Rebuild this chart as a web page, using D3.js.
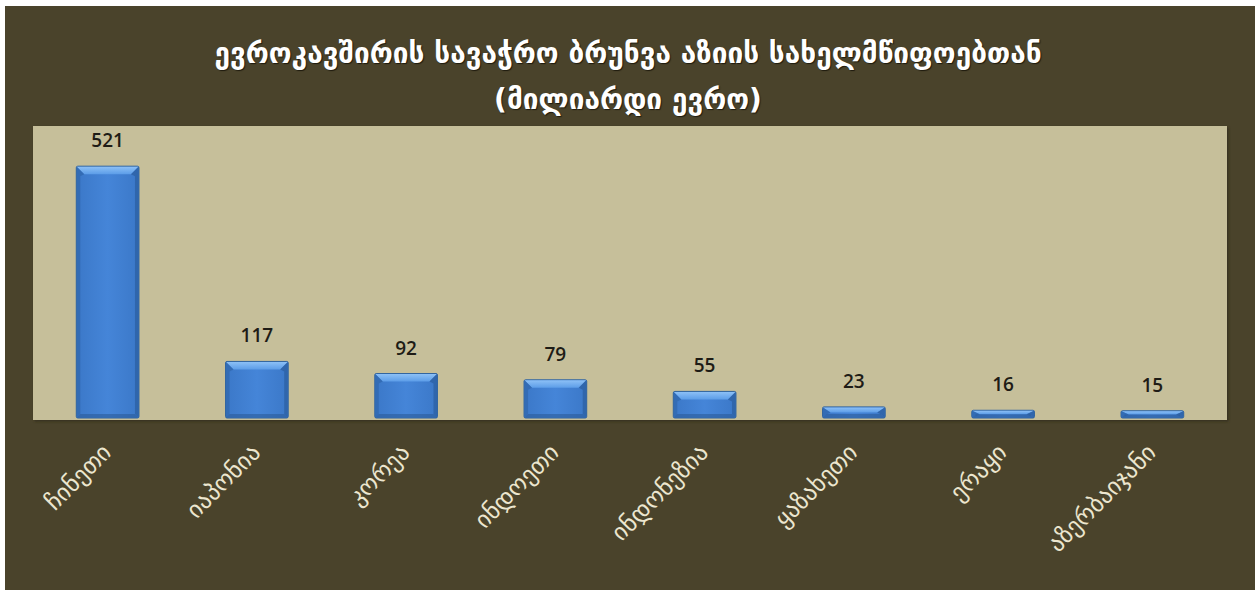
<!DOCTYPE html>
<html>
<head>
<meta charset="utf-8">
<script src="https://cdn.jsdelivr.net/npm/d3@7"></script>
<style>
  html, body { margin: 0; padding: 0; background: #ffffff; }
  svg { display: block; }
</style>
</head>
<body>
<svg id="chart" width="1255" height="590"></svg>
<script>
// EU trade turnover with Asian countries, billion euro
const countries = ["ჩინეთი", "იაპონია", "კორეა", "ინდოეთი", "ინდონეზია", "ყაზახეთი", "ერაყი", "აზერბაიჯანი"];
const turnover = [521, 117, 92, 79, 55, 23, 16, 15];
const titleLines = ["ევროკავშირის სავაჭრო ბრუნვა აზიის სახელმწიფოებთან", "(მილიარდი ევრო)"];

const W = 1255, H = 590;
const svg = d3.select("#chart");
const defs = svg.append("defs");

// outer frame
svg.append("rect").attr("x", 5).attr("y", 6).attr("width", W - 5).attr("height", H - 6).attr("fill", "#4a432b");

// plot panel
const panel = { x0: 33, x1: 1227, y0: 126, y1: 420 };
defs.append("filter").attr("id", "panelShadow")
  .append("feDropShadow").attr("dx", 1.5).attr("dy", 1.5).attr("stdDeviation", 1)
  .attr("flood-color", "#2e2a1a").attr("flood-opacity", 0.8);
svg.append("rect")
  .attr("x", panel.x0).attr("y", panel.y0)
  .attr("width", panel.x1 - panel.x0).attr("height", panel.y1 - panel.y0)
  .attr("fill", "#c6bf9a").attr("filter", "url(#panelShadow)");

const x = d3.scaleBand().domain(countries).range([panel.x0, panel.x1]).paddingInner(0.58).paddingOuter(0.29);
const y = d3.scaleLinear().domain([0, 600]).range([418, 128]);

// bar gradients
const face = defs.append("linearGradient").attr("id", "barFace").attr("x1", 0).attr("x2", 1).attr("y1", 0).attr("y2", 0);
face.append("stop").attr("offset", 0).attr("stop-color", "#3b78c8");
face.append("stop").attr("offset", 0.5).attr("stop-color", "#4585d8");
face.append("stop").attr("offset", 1).attr("stop-color", "#3b78c8");
const topFace = defs.append("linearGradient").attr("id", "barTop").attr("x1", 0).attr("x2", 0).attr("y1", 0).attr("y2", 1);
topFace.append("stop").attr("offset", 0).attr("stop-color", "#8cc0f6");
topFace.append("stop").attr("offset", 1).attr("stop-color", "#5c9de8");

const data = countries.map((c, i) => ({ c, v: turnover[i] }));
const bw = x.bandwidth();
const h = d => y(0) - y(d.v);

const bars = svg.append("g").selectAll("g").data(data).join("g")
  .attr("transform", d => `translate(${x(d.c)},${y(d.v)})`);

bars.append("rect")
  .attr("width", bw).attr("height", h)
  .attr("rx", 1.5)
  .attr("fill", "url(#barFace)").attr("stroke", "#30649f").attr("stroke-width", 1);

// bevel facets
const tb = d => Math.min(8, h(d) / 2);
const sb = d => Math.min(4, h(d) / 2);
bars.append("path")
  .attr("d", d => { const t = tb(d), s = sb(d); return `M0.5,0.5H${bw - 0.5}L${bw - s - 4},${t}H${s + 4}Z`; })
  .attr("fill", "url(#barTop)");
bars.append("path")
  .attr("d", d => { const t = tb(d), s = sb(d), hh = h(d); return `M0.5,0.5L${s + 4},${t}L${s},${t + 2}V${hh - s}L0.5,${hh - 0.5}Z`; })
  .attr("fill", "#2f66ad").attr("opacity", 0.7);
bars.append("path")
  .attr("d", d => { const t = tb(d), s = sb(d), hh = h(d); return `M${bw - 0.5},0.5L${bw - s - 4},${t}L${bw - s},${t + 2}V${hh - s}L${bw - 0.5},${hh - 0.5}Z`; })
  .attr("fill", "#2b5e9f").attr("opacity", 0.7);
bars.append("path")
  .attr("d", d => { const s = sb(d), hh = h(d); return `M0.5,${hh - 0.5}L${s},${hh - s}H${bw - s}L${bw - 0.5},${hh - 0.5}Z`; })
  .attr("fill", "#2c5c99").attr("opacity", 0.6);

// value labels
svg.append("g").selectAll("text").data(data).join("text")
  .attr("x", d => x(d.c) + bw / 2)
  .attr("y", d => y(d.v) - 19)
  .attr("text-anchor", "middle")
  .attr("font-family", "'Open Sans', 'Liberation Sans', sans-serif")
  .attr("font-size", 19)
  .attr("font-weight", 600)
  .attr("fill", "#1e1c16")
  .text(d => d.v);

// category axis labels
const xAxis = svg.append("g").attr("transform", `translate(0,${panel.y1})`)
  .call(d3.axisBottom(x).tickSize(0).tickPadding(0));
xAxis.select(".domain").remove();
xAxis.selectAll("text")
  .attr("font-family", "'DejaVu Sans', sans-serif")
  .attr("font-size", 24)
  .attr("fill", "#ece6cf")
  .attr("text-anchor", "end")
  .attr("dy", 0)
  .attr("transform", "translate(5,34) rotate(-45)");

// title
const title = svg.append("g");
titleLines.forEach((t, i) => {
  title.append("text")
    .attr("x", 628).attr("y", i === 0 ? 63 : 109)
    .attr("text-anchor", "middle")
    .attr("font-family", "'DejaVu Sans', sans-serif")
    .attr("font-size", 28)
    .attr("font-weight", "bold")
    .attr("fill", "#ffffff")
    .style("text-shadow", "1px 1px 1px #1e1a0e")
    .text(t);
});
</script>
</body>
</html>
